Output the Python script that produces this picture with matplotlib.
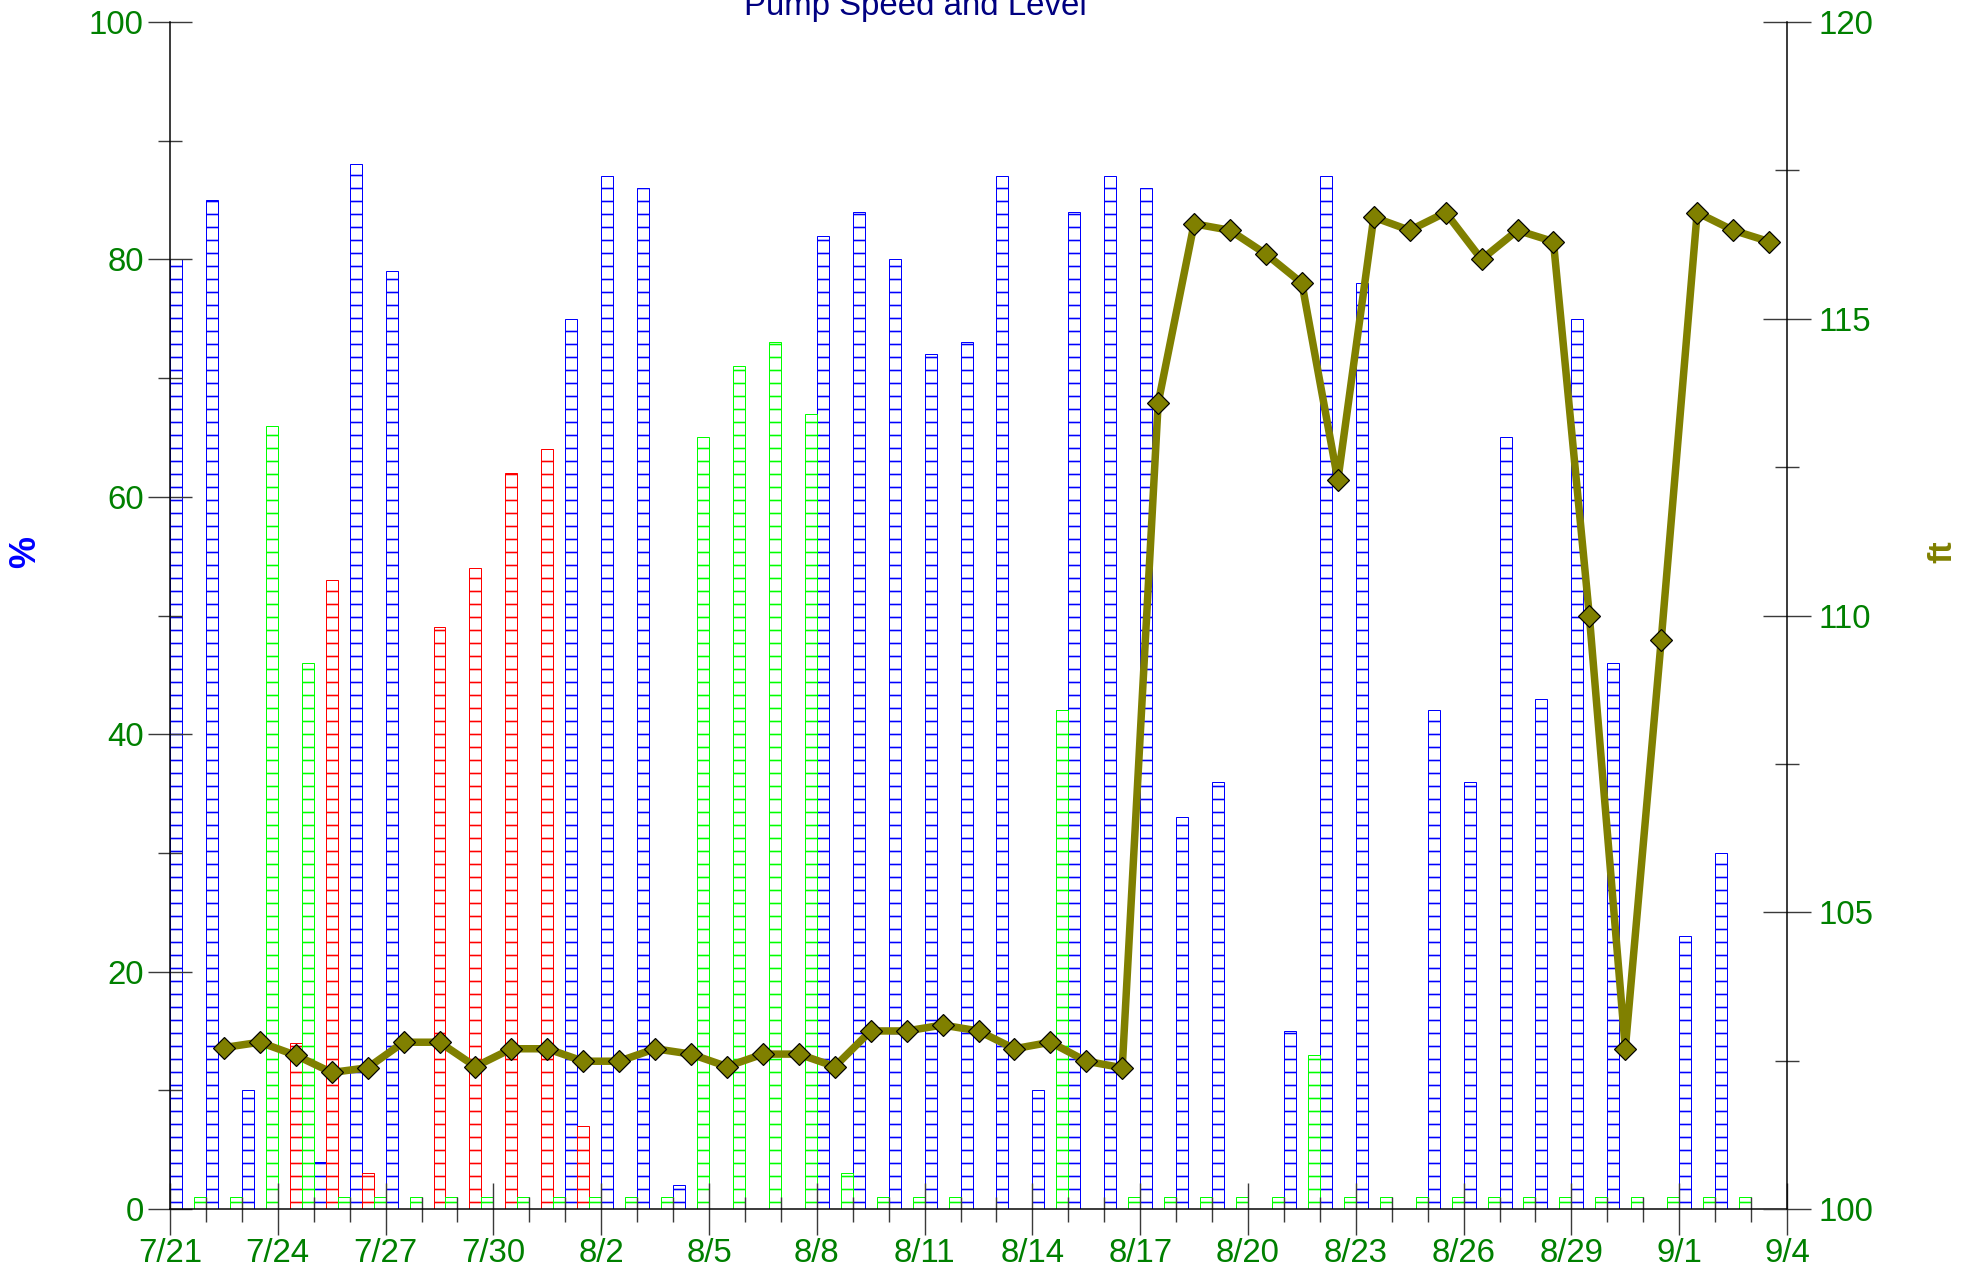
import numpy as np
import pandas as pd
import matplotlib
matplotlib.use('Agg')
import matplotlib.pyplot as plt
import matplotlib.dates as mdates
from matplotlib.ticker import MultipleLocator, FixedLocator

# ---------------- data ----------------
bar_start = '2023-07-21'          # first day of the daily pump bars
blue_pct = [80, 85, 10, 0, 4, 88, 79, 0, 0, 0, 0,
            75, 87, 86, 2, 0, 0, 0, 82, 84, 80, 72, 73, 87, 10, 84, 87, 86,
            33, 36, 0, 15, 87, 78, 0, 42, 36, 65, 43, 75, 46, 0,
            23, 30]
red_pct = [0, 0, 0, 14, 53, 3, 0, 49, 54, 62, 64,
           7, 0, 0, 0, 0, 0, 0, 0, 0, 0, 0, 0, 0, 0, 0, 0, 0,
           0, 0, 0, 0, 0, 0, 0, 0, 0, 0, 0, 0, 0, 0,
           0, 0]
green_pct = [1, 1, 66, 46, 1, 1, 1, 1, 1, 1, 1,
             1, 1, 1, 65, 71, 73, 67, 3, 1, 1, 1, 0, 0, 42, 0, 1, 1,
             1, 1, 1, 13, 1, 1, 1, 1, 1, 1, 1, 1, 1, 1,
             1, 1]

level_start = '2023-07-22'        # first day of the daily level readings (plotted at noon)
level_ft = [102.72, 102.81, 102.59, 102.30, 102.38, 102.81, 102.81, 102.40, 102.70, 102.70,
            102.49, 102.49, 102.70, 102.61, 102.40, 102.61, 102.61, 102.40, 103.00, 103.00,
            103.10, 103.00, 102.70, 102.81, 102.49, 102.38, 113.58, 116.60, 116.49, 116.09,
            115.60, 112.28, 116.71, 116.49, 116.79, 116.00, 116.49, 116.30, 109.99, 102.70,
            109.59, 116.79, 116.49, 116.30]

tick_labels = ['7/21', '7/24', '7/27', '7/30', '8/2', '8/5', '8/8', '8/11', '8/14',
               '8/17', '8/20', '8/23', '8/26', '8/29', '9/1', '9/4']
x_start, x_end = '2023-07-21', '2023-09-04'

# ---------------- style ----------------
DPI = 78
W, H = 1979, 1271
PT = 72.0 / DPI   # points per pixel

plt.rcParams['font.family'] = ['Liberation Sans', 'DejaVu Sans']
plt.rcParams['hatch.linewidth'] = 1.6 * PT

fig = plt.figure(figsize=(W / DPI, H / DPI), dpi=DPI)
ax = fig.add_axes([170 / W, 1 - 1209 / H, (1787 - 170) / W, (1209 - 22) / H])
ax.patch.set_alpha(0)

bar_days = mdates.date2num(pd.date_range(bar_start, periods=len(blue_pct), freq='D'))
for vals, color, slot in [(blue_pct, '#0000ff', 0), (red_pct, '#ff0000', 1), (green_pct, '#00ff00', 2)]:
    v = np.asarray(vals, dtype=float)
    m = v > 0
    ax.bar(bar_days[m] + slot / 3.0, v[m], width=1 / 3.0, align='edge',
           facecolor='none', edgecolor=color, hatch='-', linewidth=1.0 * PT)

ax.set_xlim(mdates.date2num(pd.Timestamp(x_start)), mdates.date2num(pd.Timestamp(x_end)))
ax.set_ylim(0, 100)

major_x = mdates.date2num(pd.date_range(x_start, x_end, freq='3D'))
minor_x = mdates.date2num(pd.date_range(x_start, x_end, freq='D'))
ax.xaxis.set_major_locator(FixedLocator(major_x))
ax.xaxis.set_minor_locator(FixedLocator(minor_x))
ax.set_xticklabels(tick_labels)
ax.yaxis.set_major_locator(MultipleLocator(20))
ax.yaxis.set_minor_locator(MultipleLocator(10))

label_size = 33 * PT
tick_col = '#3a3a3a'
ax.tick_params(axis='x', which='major', direction='inout', length=52 * PT, width=1.4 * PT,
               color=tick_col, labelcolor='#008000', labelsize=label_size, pad=3)
ax.tick_params(axis='x', which='minor', direction='inout', length=25 * PT, width=1.4 * PT, color=tick_col)
ax.tick_params(axis='y', which='major', direction='inout', length=44 * PT, width=1.4 * PT,
               color=tick_col, labelcolor='#008000', labelsize=label_size, pad=4)
ax.tick_params(axis='y', which='minor', direction='inout', length=24 * PT, width=1.4 * PT, color=tick_col)

for s in ['top', 'right']:
    ax.spines[s].set_visible(False)
for s in ['left', 'bottom']:
    ax.spines[s].set_linewidth(1.5 * PT)
    ax.spines[s].set_color('black')

ax2 = ax.twinx()
level_x = mdates.date2num(pd.date_range(level_start, periods=len(level_ft), freq='D')) + 0.5
ax2.plot(level_x, level_ft, color='#808000', linewidth=7.5 * PT, marker='D',
         markersize=16 * PT, markerfacecolor='#808000', markeredgecolor='black',
         markeredgewidth=1.2 * PT, zorder=5)
ax2.set_ylim(100, 120)
ax2.yaxis.set_major_locator(MultipleLocator(5))
ax2.yaxis.set_minor_locator(MultipleLocator(2.5))
ax2.tick_params(axis='y', which='major', direction='inout', length=48 * PT, width=1.4 * PT,
                color=tick_col, labelcolor='#008000', labelsize=label_size, pad=7)
ax2.tick_params(axis='y', which='minor', direction='inout', length=24 * PT, width=1.4 * PT, color=tick_col)
for s in ['top', 'left', 'bottom']:
    ax2.spines[s].set_visible(False)
ax2.spines['right'].set_linewidth(1.5 * PT)
ax2.spines['right'].set_color('black')

fig.text(915 / W, 1 - 15 / H, 'Pump Speed and Level', color='#000080',
         fontsize=33 * PT, ha='center', va='baseline')
fig.text(26 / W, 1 - 552 / H, '%', color='#0000ff', fontsize=36 * PT,
         fontweight='bold', rotation=90, ha='center', va='center')
fig.text(1943 / W, 1 - 552 / H, 'ft', color='#808000', fontsize=34 * PT,
         fontweight='bold', rotation=90, ha='center', va='center')

fig.savefig('out.png', dpi=DPI)
